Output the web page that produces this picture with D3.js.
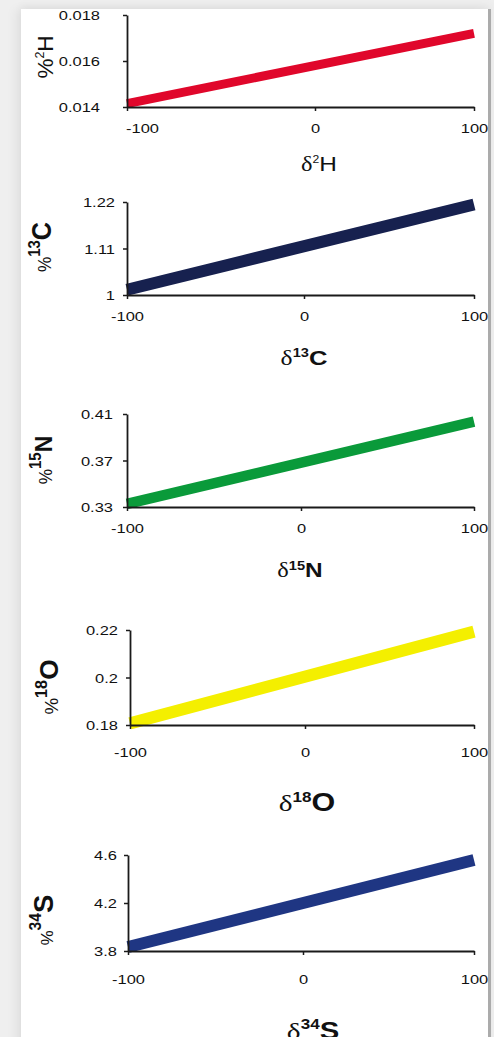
<!DOCTYPE html>
<html>
<head>
<meta charset="utf-8">
<script src="https://cdn.jsdelivr.net/npm/d3@7"></script>
<style>
  html, body { margin: 0; padding: 0; width: 494px; height: 1037px; overflow: hidden; background: #efefef; }
  #card { position: absolute; left: 21px; top: 9px; width: 467px; height: 1100px; background: #fff;
          box-shadow: -6px 0 10px rgba(0,0,0,0.05), 0 -4px 8px rgba(0,0,0,0.04); border-right: 3px solid #ababab; }
  svg { position: absolute; left: 0; top: 0; }
</style>
</head>
<body>
<div id="card"></div>
<svg id="chart" width="494" height="1037"></svg>
<script>
// Isotope abundance (%) versus delta value (‰), one panel per element
const isotopeSymbols = ["H", "C", "N", "O", "S"];
const massNumbers = ["2", "13", "15", "18", "34"];
const deltaTicks = [-100, 0, 100];
const deltaTickLabels = ["-100", "0", "100"];
const deltaEnds = [-100, 100];
const abundanceAtLow = [0.01415, 1.0125, 0.3326, 0.1807, 3.833];
const abundanceAtHigh = [0.0172, 1.214, 0.4034, 0.2193, 4.558];
const yTickValues = [
  [0.014, 0.016, 0.018],
  [1, 1.11, 1.22],
  [0.33, 0.37, 0.41],
  [0.18, 0.2, 0.22],
  [3.8, 4.2, 4.6]
];
const yTickLabels = [
  ["0.014", "0.016", "0.018"],
  ["1", "1.11", "1.22"],
  ["0.33", "0.37", "0.41"],
  ["0.18", "0.2", "0.22"],
  ["3.8", "4.2", "4.6"]
];

// Panel geometry and styling
const SX = 1.22; // horizontal widening of the lettering
const layout = [
  { left: 127, mid: 315, right: 474, top: 15, bottom: 107, tickX: 100, firstDx: 15, xLabelY: 133,
    color: "#e0072b", width: 9, bold: false,
    title: { x: 319, y: 171, d: 20, sup: 10, sym: 20, raise: 8 },
    yTitle: { x: 53, y: 57, pct: 18, sup: 10, sym: 18, raise: 7, sy: 1.25 } },
  { left: 127, mid: 304, right: 474, top: 202, bottom: 295, tickX: 115, firstDx: 0, xLabelY: 321,
    color: "#17214f", width: 12, bold: true,
    title: { x: 304, y: 365, d: 21, sup: 12, sym: 21, raise: 8 },
    yTitle: { x: 51, y: 247, pct: 15, sup: 13, sym: 22, raise: 9, sy: 1.15 } },
  { left: 127, mid: 301, right: 474, top: 414, bottom: 507, tickX: 113, firstDx: 0, xLabelY: 533,
    color: "#0a9a3a", width: 10.5, bold: true,
    title: { x: 300, y: 577, d: 20, sup: 12, sym: 20, raise: 7 },
    yTitle: { x: 52, y: 460, pct: 15, sup: 13, sym: 20, raise: 9, sy: 1.15 } },
  { left: 130, mid: 305, right: 474, top: 630, bottom: 725, tickX: 118, firstDx: 0, xLabelY: 757,
    color: "#f4ef00", width: 12, bold: true,
    title: { x: 307, y: 811, d: 24, sup: 14, sym: 25, raise: 9 },
    yTitle: { x: 58, y: 687, pct: 15, sup: 13, sym: 21, raise: 9, sy: 1.25 } },
  { left: 128, mid: 303, right: 474, top: 855, bottom: 951, tickX: 117, firstDx: 0, xLabelY: 984,
    color: "#1f3683", width: 12, bold: true,
    title: { x: 313, y: 1039, d: 24, sup: 14, sym: 24, raise: 10 },
    yTitle: { x: 53, y: 920, pct: 14, sup: 13, sym: 23, raise: 10, sy: 1.2 } }
];

const SANS = "'Liberation Sans', Arial, sans-serif";
const SERIF = "'Liberation Serif', 'Times New Roman', serif";
const INK = "#1a1a1a";

const svg = d3.select("#chart");

isotopeSymbols.forEach((sym, i) => {
  const L = layout[i];
  const g = svg.append("g");

  const x = d3.scaleLinear().domain(deltaTicks).range([L.left, L.mid, L.right]);
  const yv = yTickValues[i];
  const y = d3.scaleLinear().domain([yv[0], yv[yv.length - 1]]).range([L.bottom, L.top]);

  // abundance line
  const pts = deltaEnds.map((d, k) => [d, k === 0 ? abundanceAtLow[i] : abundanceAtHigh[i]]);
  g.append("path")
    .datum(pts)
    .attr("fill", "none")
    .attr("stroke", L.color)
    .attr("stroke-width", L.width)
    .attr("stroke-linecap", "butt")
    .attr("d", d3.line().x(d => x(d[0])).y(d => y(d[1])));

  // y axis
  const ya = g.append("g")
    .attr("transform", `translate(${L.left},0)`)
    .call(d3.axisLeft(y).tickValues(yv).tickSize(4).tickSizeOuter(0)
      .tickFormat((d, k) => yTickLabels[i][k]));
  // x axis
  const xa = g.append("g")
    .attr("transform", `translate(0,${L.bottom})`)
    .call(d3.axisBottom(x).tickValues(deltaTicks).tickSize(4).tickSizeOuter(0)
      .tickFormat((d, k) => deltaTickLabels[k]));

  [ya, xa].forEach(a => {
    a.select(".domain").attr("stroke", INK).attr("stroke-width", 1.8);
    a.selectAll(".tick line").attr("stroke", INK).attr("stroke-width", 1.5);
    a.selectAll("text")
      .attr("font-family", SANS).attr("font-size", 13.5).attr("fill", "#111");
  });
  ya.selectAll(".tick text")
    .attr("x", null).attr("dy", null)
    .attr("text-anchor", "end")
    .attr("dominant-baseline", "central")
    .attr("transform", `translate(${L.tickX - L.left},0) scale(${SX},1)`);
  xa.selectAll(".tick text")
    .attr("y", null).attr("dy", null)
    .attr("text-anchor", "middle")
    .attr("transform", (d, k) => `translate(${k === 0 ? L.firstDx : 0},${L.xLabelY - L.bottom}) scale(${SX},1)`);

  const weight = L.bold ? "bold" : "normal";

  // x-axis title: δ with mass number superscript
  const T = L.title;
  const tt = g.append("text")
    .attr("transform", `translate(${T.x},${T.y}) scale(${SX},1)`)
    .attr("text-anchor", "middle").attr("fill", "#111");
  tt.append("tspan").attr("font-family", SERIF).attr("font-size", T.d).text("δ");
  tt.append("tspan").attr("font-family", SANS).attr("font-size", T.sup).attr("font-weight", weight)
    .attr("dy", -T.raise).text(massNumbers[i]);
  tt.append("tspan").attr("font-family", SANS).attr("font-size", T.sym).attr("font-weight", weight)
    .attr("dy", T.raise).text(sym);

  // y-axis title: % with mass number superscript, rotated
  const Y = L.yTitle;
  const yt = g.append("text")
    .attr("transform", `translate(${Y.x},${Y.y}) scale(${SX},${Y.sy}) rotate(-90)`)
    .attr("text-anchor", "middle").attr("fill", "#111");
  yt.append("tspan").attr("font-family", SANS).attr("font-size", Y.pct).text("%");
  yt.append("tspan").attr("font-family", SANS).attr("font-size", Y.sup).attr("font-weight", weight)
    .attr("dy", -Y.raise).text(massNumbers[i]);
  yt.append("tspan").attr("font-family", SANS).attr("font-size", Y.sym).attr("font-weight", weight)
    .attr("dy", Y.raise).text(sym);
});
</script>
</body>
</html>
